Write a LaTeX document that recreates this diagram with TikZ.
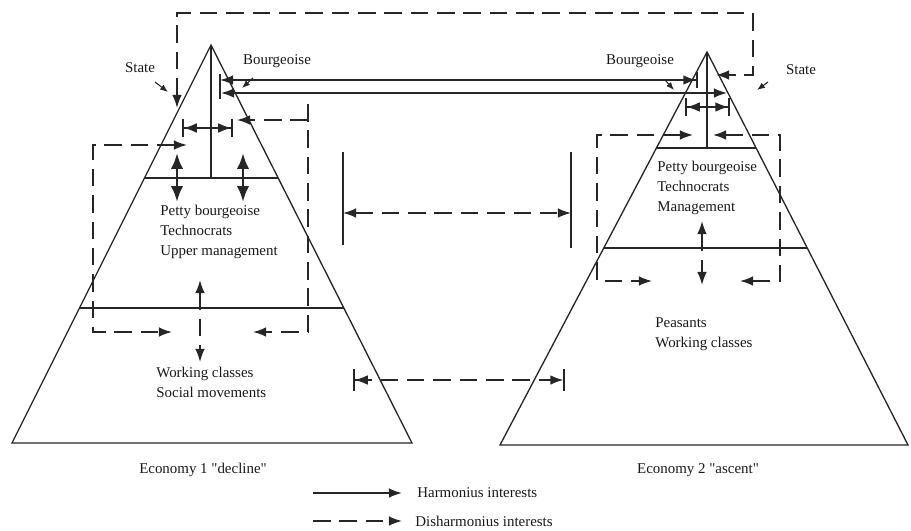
\documentclass[tikz,border=0pt]{standalone}
\usepackage{fontspec}
\setmainfont{Liberation Serif}
\usetikzlibrary{positioning,calc,arrows.meta}

\begin{document}
\begin{tikzpicture}[
    x=0.02cm, y=-0.02cm,
    ink/.style={draw=black!85},
    side/.style={ink, line width=0.75pt},
    harm/.style={ink, line width=0.9pt},
    disharm/.style={ink, line width=0.9pt, dash pattern=on 10pt off 5pt},
    heads/.style={{Latex[length=7.5pt,width=5.5pt]}-{Latex[length=7.5pt,width=5.5pt]}},
    barheads/.style={{Bar[width=#1]Latex[length=7.5pt,width=5.5pt]}-{Latex[length=7.5pt,width=5.5pt]Bar[width=#1]}},
    fat/.style={ink, line width=1.6pt, {Latex[length=9pt,width=7pt]}-{Latex[length=9pt,width=7pt]}},
    pointer/.style={ink, line width=0.6pt, -{Latex[length=4.5pt,width=3.5pt]}},
    txt/.style={font=\fontsize{8.5}{11.3}\selectfont, inner sep=0pt, text=black!90},
    block/.style={txt, align=left, anchor=west}
]
    \useasboundingbox (0,0) rectangle (911,530);

    % economy 1 pyramid
    \coordinate (l-apex) at (211,45);
    \coordinate (l-left) at (12,443);
    \coordinate (l-right) at (412,443);
    \draw[side] (l-apex) -- (l-left) -- (l-right) -- cycle;
    \coordinate (l-a1) at ($(l-apex)!0.334!(l-left)$);
    \coordinate (l-b1) at ($(l-apex)!0.334!(l-right)$);
    \coordinate (l-a2) at ($(l-apex)!0.661!(l-left)$);
    \coordinate (l-b2) at ($(l-apex)!0.661!(l-right)$);
    \draw[side] (l-a1) -- (l-b1);
    \draw[side] (l-a2) -- (l-b2);
    \draw[side] (l-apex) -- (l-apex |- l-a1);

    % economy 2 pyramid
    \coordinate (r-apex) at (707,52);
    \coordinate (r-left) at (500,445);
    \coordinate (r-right) at (908,445);
    \draw[side] (r-apex) -- (r-left) -- (r-right) -- cycle;
    \coordinate (r-a1) at ($(r-apex)!0.244!(r-left)$);
    \coordinate (r-b1) at ($(r-apex)!0.244!(r-right)$);
    \coordinate (r-a2) at ($(r-apex)!0.499!(r-left)$);
    \coordinate (r-b2) at ($(r-apex)!0.499!(r-right)$);
    \draw[side] (r-a1) -- (r-b1);
    \draw[side] (r-a2) -- (r-b2);
    \draw[side] (r-apex) -- (r-apex |- r-a1);

    % labels
    \node[txt] (l-state) at (140,68) {State};
    \node[txt] (l-bourg) at (277,61) {Bourgeoise};
    \node[txt] (r-bourg) at (640,61) {Bourgeoise};
    \node[txt] (r-state) at (801,70) {State};
    \node[block] (l-upper) at (160,232) {Petty bourgeoise\\Technocrats\\Upper management};
    \node[block] (l-lower) at (156,382) {Working classes\\Social movements};
    \node[block] (r-upper) at (657,188) {Petty bourgeoise\\Technocrats\\Management};
    \node[block] (r-lower) at (655,334) {Peasants\\Working classes};
    \node[txt] (l-caption) at (203,470) {Economy 1 \textquotedbl decline\textquotedbl};
    \node[txt] (r-caption) at (698,470) {Economy 2 \textquotedbl ascent\textquotedbl};

    % pointers
    \coordinate (p1a) at (155,82);  \coordinate (p1b) at (168,92);
    \coordinate (p2a) at (253,78);  \coordinate (p2b) at (242,88);
    \coordinate (p3a) at (665,80);  \coordinate (p3b) at (674,90);
    \coordinate (p4a) at (768,82);  \coordinate (p4b) at (757,90);
    \draw[pointer] (p1a) -- (p1b);
    \draw[pointer] (p2a) -- (p2b);
    \draw[pointer] (p3a) -- (p3b);
    \draw[pointer] (p4a) -- (p4b);

    % bourgeoise to bourgeoise
    \coordinate (bar-top) at (220,74);
    \coordinate (bar-bot) at (220,99);
    \draw[harm] (bar-top) -- (bar-bot);
    \coordinate (sa-l) at (220,80);
    \coordinate (sa-r) at (698,80);
    \coordinate (sb-l) at (221,93);
    \coordinate (sb-r) at (727,93);
    \draw[harm, {Latex[length=7.5pt,width=5.5pt]}-{Latex[length=7.5pt,width=5.5pt]Bar[width=9pt]}] (sa-l) -- (sa-r);
    \draw[harm, heads] (sb-l) -- (sb-r);

    % state to state
    \coordinate (lp-1) at (177,108);
    \coordinate (lp-2) at (177,13);
    \coordinate (lp-3) at (753,13);
    \coordinate (lp-4) at (753,75);
    \coordinate (lp-5) at (716,75);
    \draw[disharm, heads] (lp-1) -- (lp-2) -- (lp-3) -- (lp-4) -- (lp-5);

    % inside economy 1
    \coordinate (ls-l) at (182,128);
    \coordinate (ls-r) at (233,128);
    \draw[harm, barheads=10pt] (ls-l) -- (ls-r);
    \draw[fat] (177,153) coordinate (lf1a) -- (177,202) coordinate (lf1b);
    \draw[fat] (243,153) coordinate (lf2a) -- (243,202) coordinate (lf2b);
    \coordinate (lb-1) at (187,145);
    \coordinate (lb-2) at (93,145);
    \coordinate (lb-3) at (93,332);
    \coordinate (lb-4) at (172,332);
    \draw[disharm, heads] (lb-1) -- (lb-2) -- (lb-3) -- (lb-4);
    \coordinate (rb-0) at (308,104);
    \coordinate (rb-j) at (308,120);
    \coordinate (rb-1) at (237,120);
    \coordinate (rb-3) at (308,332);
    \coordinate (rb-4) at (253,332);
    \draw[disharm, -{Latex[length=7.5pt,width=5.5pt]}] (rb-0) -- (rb-3) -- (rb-4);
    \draw[disharm, -{Latex[length=7.5pt,width=5.5pt]}] (rb-j) -- (rb-1);
    \coordinate (lv-a) at (200,280);
    \coordinate (lv-b) at (200,362);
    \draw[disharm, heads] (lv-a) -- (lv-b);

    % inside economy 2
    \coordinate (rs-l) at (685,107);
    \coordinate (rs-r) at (730,107);
    \draw[harm, barheads=10pt] (rs-l) -- (rs-r);
    \coordinate (qb-1) at (693,135);
    \coordinate (qb-2) at (597,135);
    \coordinate (qb-3) at (597,281);
    \coordinate (qb-4) at (652,281);
    \draw[disharm, heads] (qb-1) -- (qb-2) -- (qb-3) -- (qb-4);
    \coordinate (qc-1) at (713,135);
    \coordinate (qc-2) at (780,135);
    \coordinate (qc-3) at (780,281);
    \coordinate (qc-4) at (740,281);
    \draw[disharm, heads] (qc-1) -- (qc-2) -- (qc-3) -- (qc-4);
    \coordinate (rv-a) at (702,221);
    \coordinate (rv-b) at (702,285);
    \draw[disharm, heads] (rv-a) -- (rv-b);

    % between the economies
    \draw[harm] (343,152) coordinate (mu-lt) -- (343,245) coordinate (mu-lb);
    \draw[harm] (571,152) coordinate (mu-rt) -- (571,248) coordinate (mu-rb);
    \coordinate (mu-l) at (343,213);
    \coordinate (mu-r) at (571,213);
    \draw[disharm, heads] (mu-l) -- (mu-r);
    \coordinate (ml-l) at (353,380);
    \coordinate (ml-r) at (565,380);
    \draw[disharm, barheads=12pt] (ml-l) -- (ml-r);

    % key
    \coordinate (kh-a) at (313,493);
    \coordinate (kh-b) at (402,493);
    \coordinate (kd-a) at (313,521);
    \coordinate (kd-b) at (402,521);
    \draw[harm, -{Latex[length=7.5pt,width=5.5pt]}] (kh-a) -- (kh-b);
    \draw[disharm, -{Latex[length=7.5pt,width=5.5pt]}] (kd-a) -- (kd-b);
    \node[txt, right=0.3cm of kh-b] (key-harm) {Harmonius interests};
    \node[txt, right=0.26cm of kd-b] (key-dis) {Disharmonius interests};
\end{tikzpicture}
\end{document}
